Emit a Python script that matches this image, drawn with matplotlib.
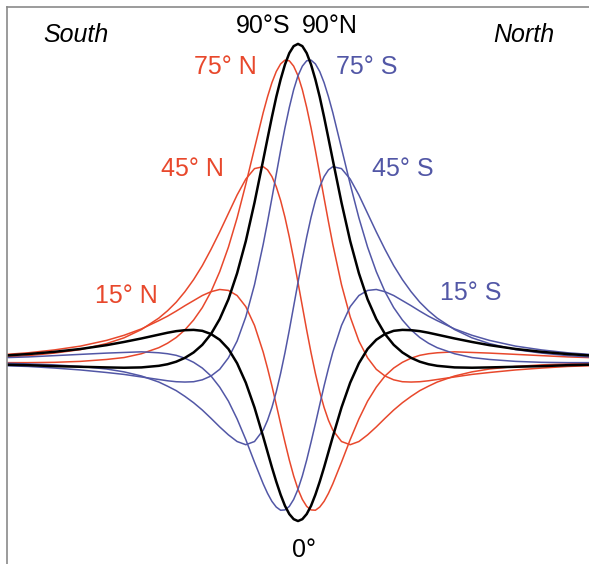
import matplotlib
matplotlib.use('Agg')
import matplotlib.pyplot as plt

plt.rcParams['font.family'] = ['Liberation Sans', 'DejaVu Sans']

# profile distance (in units of source depth), south -> north
distance = [-3.45, -3.1, -2.8, -2.5, -2.2, -2.0, -1.8, -1.6, -1.5, -1.4,
            -1.3, -1.2, -1.1, -1.0, -0.9, -0.8, -0.7, -0.6, -0.5,
            -0.4, -0.35, -0.3, -0.25, -0.2, -0.15, -0.1, -0.05, 0.0,
            0.05, 0.1, 0.15, 0.2, 0.25, 0.3, 0.35, 0.4,
            0.5, 0.6, 0.7, 0.8, 0.9, 1.0, 1.1, 1.2, 1.3,
            1.4, 1.5, 1.6, 1.8, 2.0, 2.2, 2.5, 2.8, 3.1, 3.45]

# total field anomaly (arbitrary units, pole peak = 100)
anom_90 = [-0.8, -1.0, -1.3, -1.5, -1.7, -1.8, -1.7, -1.2, -0.7, 0.1,
           1.3, 3.0, 5.4, 8.8, 13.5, 19.7, 27.9, 38.0, 50.1,
           63.5, 70.3, 77.0, 83.3, 88.8, 93.5, 97.1, 99.3, 100.0,
           99.3, 97.1, 93.5, 88.8, 83.3, 77.0, 70.3, 63.5,
           50.1, 38.0, 27.9, 19.7, 13.5, 8.8, 5.4, 3.0, 1.3,
           0.1, -0.7, -1.2, -1.7, -1.8, -1.7, -1.5, -1.3, -1.0, -0.8]
anom_0 = [1.9, 2.5, 3.2, 4.1, 5.3, 6.3, 7.4, 8.6, 9.2, 9.7,
          10.0, 10.1, 9.8, 8.8, 7.0, 4.1, -0.4, -6.5, -14.3,
          -23.5, -28.3, -33.1, -37.6, -41.7, -45.2, -47.8, -49.4, -50.0,
          -49.4, -47.8, -45.2, -41.7, -37.6, -33.1, -28.3, -23.5,
          -14.3, -6.5, -0.4, 4.1, 7.0, 8.8, 9.8, 10.1, 10.0,
          9.7, 9.2, 8.6, 7.4, 6.3, 5.3, 4.1, 3.2, 2.5, 1.9]
anom_75n = [-0.2, -0.2, -0.1, 0.2, 0.8, 1.4, 2.6, 4.5, 5.9, 7.7,
            10.1, 13.2, 17.1, 22.1, 28.4, 36.1, 45.3, 55.9, 67.2,
            78.4, 83.4, 87.8, 91.3, 93.7, 94.9, 94.7, 93.0, 90.0,
            85.6, 80.0, 73.6, 66.5, 59.0, 51.5, 44.1, 37.0,
            24.3, 14.2, 6.6, 1.3, -2.3, -4.4, -5.6, -6.2, -6.3,
            -6.2, -5.9, -5.5, -4.7, -3.9, -3.3, -2.5, -1.9, -1.4, -1.1]
anom_75s = [-1.1, -1.4, -1.9, -2.5, -3.3, -3.9, -4.7, -5.5, -5.9, -6.2,
            -6.3, -6.2, -5.6, -4.4, -2.3, 1.3, 6.6, 14.2, 24.3,
            37.0, 44.1, 51.5, 59.0, 66.5, 73.6, 80.0, 85.6, 90.0,
            93.0, 94.7, 94.9, 93.7, 91.3, 87.8, 83.4, 78.4,
            67.2, 55.9, 45.3, 36.1, 28.4, 22.1, 17.1, 13.2, 10.1,
            7.7, 5.9, 4.5, 2.6, 1.4, 0.8, 0.2, -0.1, -0.2, -0.2]
anom_45n = [1.4, 2.0, 2.8, 3.9, 5.8, 7.6, 10.2, 13.8, 16.1, 18.8,
            22.1, 25.9, 30.3, 35.4, 40.9, 46.7, 52.5, 57.5, 60.8,
            61.4, 60.4, 58.3, 55.1, 50.8, 45.5, 39.3, 32.4, 25.0,
            17.5, 10.0, 2.9, -3.6, -9.4, -14.3, -18.3, -21.4,
            -25.0, -26.0, -25.0, -22.9, -20.4, -17.7, -15.1, -12.8, -10.8,
            -9.0, -7.6, -6.3, -4.4, -3.1, -2.2, -1.4, -0.9, -0.6, -0.3]
anom_45s = [-0.3, -0.6, -0.9, -1.4, -2.2, -3.1, -4.4, -6.3, -7.6, -9.0,
            -10.8, -12.8, -15.1, -17.7, -20.4, -22.9, -25.0, -26.0, -25.0,
            -21.4, -18.3, -14.3, -9.4, -3.6, 2.9, 10.0, 17.5, 25.0,
            32.4, 39.3, 45.5, 50.8, 55.1, 58.3, 60.4, 61.4,
            60.8, 57.5, 52.5, 46.7, 40.9, 35.4, 30.3, 25.9, 22.1,
            18.8, 16.1, 13.8, 10.2, 7.6, 5.8, 3.9, 2.8, 2.0, 1.4]
anom_15n = [2.2, 2.9, 3.8, 5.0, 6.8, 8.4, 10.4, 13.0, 14.4, 16.0,
            17.7, 19.3, 20.9, 22.1, 22.8, 22.5, 20.9, 17.4, 11.5,
            3.1, -2.0, -7.5, -13.4, -19.4, -25.2, -30.8, -35.8, -40.0,
            -43.2, -45.4, -46.5, -46.6, -45.6, -43.8, -41.3, -38.3,
            -31.5, -24.4, -17.9, -12.3, -7.9, -4.4, -1.9, -0.1, 1.2,
            2.1, 2.6, 2.9, 3.2, 3.0, 2.8, 2.4, 2.0, 1.6, 1.3]
anom_15s = [1.3, 1.6, 2.0, 2.4, 2.8, 3.0, 3.2, 2.9, 2.6, 2.1,
            1.2, -0.1, -1.9, -4.4, -7.9, -12.3, -17.9, -24.4, -31.5,
            -38.3, -41.3, -43.8, -45.6, -46.6, -46.5, -45.4, -43.2, -40.0,
            -35.8, -30.8, -25.2, -19.4, -13.4, -7.5, -2.0, 3.1,
            11.5, 17.4, 20.9, 22.5, 22.8, 22.1, 20.9, 19.3, 17.7,
            16.0, 14.4, 13.0, 10.4, 8.4, 6.8, 5.0, 3.8, 2.9, 2.2]

red = '#e8482c'
blue = '#5257a6'

fig = plt.figure(figsize=(5.89, 5.64), dpi=100)
ax = fig.add_axes([7 / 589, 0, 1 - 7 / 589, 557 / 564])

for series in [anom_75n, anom_45n, anom_15n]:
    ax.plot(distance, series, color=red, lw=1.1, solid_joinstyle='round')
for series in [anom_75s, anom_45s, anom_15s]:
    ax.plot(distance, series, color=blue, lw=1.1, solid_joinstyle='round')
ax.plot(distance, anom_90, color='black', lw=1.8, solid_joinstyle='round')
ax.plot(distance, anom_0, color='black', lw=1.8, solid_joinstyle='round')

ax.set_xlim(-3.345, 3.345)
ax.set_ylim(-63.5, 111.6)
ax.set_xticks([])
ax.set_yticks([])
ax.spines['right'].set_visible(False)
ax.spines['bottom'].set_visible(False)
for s in ['top', 'left']:
    ax.spines[s].set_color('#8a8a8a')
    ax.spines[s].set_linewidth(1.2)

fs = 18
ax.text(-2.55, 100.6, 'South', ha='center', va='baseline', fontsize=fs, style='italic')
ax.text(2.59, 100.6, 'North', ha='center', va='baseline', fontsize=fs, style='italic')
ax.text(-0.40, 103.5, '90°S', ha='center', va='baseline', fontsize=fs)
ax.text(0.37, 103.5, '90°N', ha='center', va='baseline', fontsize=fs)
ax.text(0.07, -61.3, '0°', ha='center', va='baseline', fontsize=fs)
ax.text(-0.84, 90.6, '75° N', ha='center', va='baseline', fontsize=fs, color=red)
ax.text(-1.21, 58.5, '45° N', ha='center', va='baseline', fontsize=fs, color=red)
ax.text(-1.97, 18.6, '15° N', ha='center', va='baseline', fontsize=fs, color=red)
ax.text(0.79, 90.6, '75° S', ha='center', va='baseline', fontsize=fs, color=blue)
ax.text(1.20, 58.5, '45° S', ha='center', va='baseline', fontsize=fs, color=blue)
ax.text(1.98, 19.5, '15° S', ha='center', va='baseline', fontsize=fs, color=blue)

fig.savefig('out.png', dpi=100)
